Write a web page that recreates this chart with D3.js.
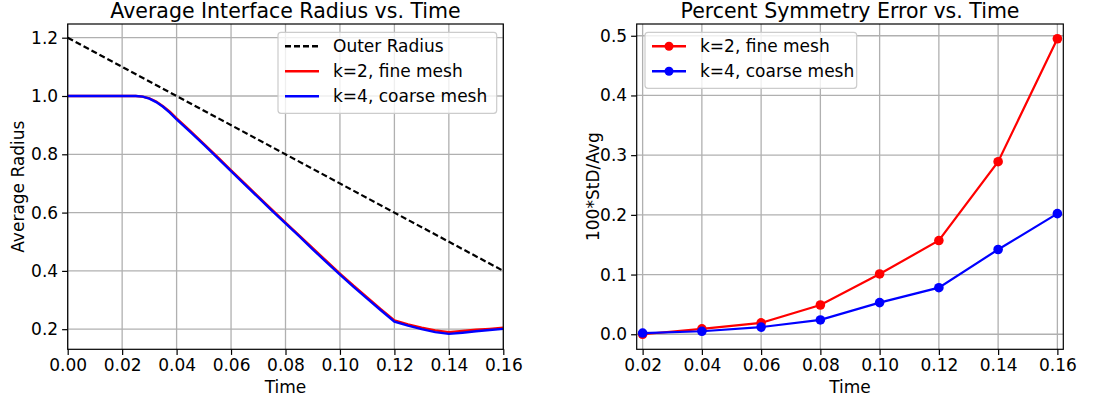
<!DOCTYPE html>
<html lang="en">
<head>
<meta charset="UTF-8">
<title>Interface Radius and Symmetry Error</title>
<script src="https://d3js.org/d3.v7.min.js"></script>
<style>
body { margin: 0; background: #fff; }
svg text { font-family: "DejaVu Sans", sans-serif; fill: #000; }
</style>
</head>
<body>
<svg width="1094" height="402"></svg>
<script>
// left panel: radius history (denser samples around the knee)
var timeFine = [0, 0.005, 0.01, 0.015, 0.02, 0.025, 0.0275, 0.03, 0.0325, 0.035, 0.0375, 0.04,
    0.045, 0.05, 0.055, 0.06, 0.065, 0.07, 0.075, 0.08, 0.085, 0.09, 0.095, 0.10, 0.105,
    0.11, 0.115, 0.12, 0.125, 0.13, 0.135, 0.14, 0.145, 0.15, 0.155, 0.16];
var radiusK2 = [1.0, 1.0, 1.0, 1.0, 1.0, 1.0, 0.998, 0.992, 0.981, 0.965, 0.946, 0.923,
    0.880, 0.836, 0.791, 0.745, 0.700, 0.655, 0.610, 0.566, 0.522, 0.478, 0.434, 0.391, 0.349,
    0.309, 0.269, 0.230, 0.216, 0.205, 0.196, 0.190, 0.194, 0.198, 0.201, 0.205];
var radiusK4 = [1.0, 1.0, 1.0, 1.0, 1.0, 1.0, 0.998, 0.991, 0.979, 0.963, 0.943, 0.920,
    0.877, 0.833, 0.788, 0.742, 0.697, 0.652, 0.607, 0.563, 0.519, 0.474, 0.430, 0.387, 0.345,
    0.305, 0.265, 0.226, 0.212, 0.200, 0.190, 0.184, 0.188, 0.193, 0.197, 0.201];
var outerTime = [0, 0.16];
var outerRadius = [1.2, 0.4];

// right panel: symmetry error
var timeCoarse = [0.02, 0.04, 0.06, 0.08, 0.10, 0.12, 0.14, 0.16];
var errK2 = [0.000, 0.009, 0.019, 0.049, 0.101, 0.157, 0.289, 0.495];
var errK4 = [0.002, 0.005, 0.012, 0.024, 0.053, 0.078, 0.142, 0.202];

var leftXTicks = [0, 0.02, 0.04, 0.06, 0.08, 0.10, 0.12, 0.14, 0.16];
var leftYTicks = [0.2, 0.4, 0.6, 0.8, 1.0, 1.2];
var rightXTicks = [0.02, 0.04, 0.06, 0.08, 0.10, 0.12, 0.14, 0.16];
var rightYTicks = [0.0, 0.1, 0.2, 0.3, 0.4, 0.5];

var svg = d3.select('svg');
var plotTop = 24, plotBottom = 349.3;

function panel(opt) {
    var g = svg.append('g');
    var x = d3.scaleLinear().domain(opt.xDomain).range([opt.left, opt.right]);
    var y = d3.scaleLinear().domain(opt.yDomain).range([plotBottom, plotTop]);

    // grid
    g.append('g').selectAll('line').data(opt.xTicks).enter().append('line')
        .attr('x1', d => x(d)).attr('x2', d => x(d))
        .attr('y1', plotTop).attr('y2', plotBottom)
        .attr('stroke', '#b0b0b0').attr('stroke-width', 1.3);
    g.append('g').selectAll('line').data(opt.yTicks).enter().append('line')
        .attr('x1', opt.left).attr('x2', opt.right)
        .attr('y1', d => y(d)).attr('y2', d => y(d))
        .attr('stroke', '#b0b0b0').attr('stroke-width', 1.3);

    var clipId = 'clip' + Math.round(opt.left);
    svg.append('clipPath').attr('id', clipId).append('rect')
        .attr('x', opt.left).attr('y', plotTop)
        .attr('width', opt.right - opt.left).attr('height', plotBottom - plotTop);
    var plot = g.append('g').attr('clip-path', 'url(#' + clipId + ')');
    opt.draw(plot, x, y);

    // axes
    var xa = g.append('g').attr('transform', 'translate(0,' + plotBottom + ')')
        .call(d3.axisBottom(x).tickValues(opt.xTicks).tickFormat(d3.format(opt.xFmt)).tickSize(5.6).tickPadding(4));
    var ya = g.append('g').attr('transform', 'translate(' + opt.left + ',0)')
        .call(d3.axisLeft(y).tickValues(opt.yTicks).tickFormat(d3.format(opt.yFmt)).tickSize(5.6).tickPadding(4));
    [xa, ya].forEach(function(a) {
        a.select('.domain').remove();
        a.selectAll('.tick line').attr('stroke', '#000').attr('stroke-width', 1.2);
        a.selectAll('.tick text').attr('font-size', 17).attr('fill', '#000')
            .style('font-family', '"DejaVu Sans", sans-serif');
    });
    xa.selectAll('.tick text').attr('dy', '0.71em');

    g.append('rect').attr('x', opt.left).attr('y', plotTop)
        .attr('width', opt.right - opt.left).attr('height', plotBottom - plotTop)
        .attr('fill', 'none').attr('stroke', '#000').attr('stroke-width', 1.2);

    var cx = (opt.left + opt.right) / 2;
    g.append('text').attr('x', cx).attr('y', 18).attr('text-anchor', 'middle')
        .attr('font-size', 20.5).text(opt.title);
    g.append('text').attr('x', cx).attr('y', 393).attr('text-anchor', 'middle')
        .attr('font-size', 17).text('Time');
    g.append('text').attr('transform', 'translate(' + opt.ylabelX + ',' + ((plotTop + plotBottom) / 2) + ') rotate(-90)')
        .attr('text-anchor', 'middle').attr('font-size', 17).text(opt.ylabel);

    // legend
    var lg = g.append('g');
    lg.append('rect').attr('x', opt.legend.x).attr('y', opt.legend.y)
        .attr('width', opt.legend.w).attr('height', opt.legend.h).attr('rx', 3)
        .attr('fill', '#fff').attr('fill-opacity', 0.8).attr('stroke', '#cccccc').attr('stroke-width', 1.2);
    opt.legend.items.forEach(function(it, i) {
        var cy = opt.legend.y + 14 + i * 25;
        var lx = opt.legend.x + 7;
        lg.append('line').attr('x1', lx).attr('x2', lx + 34).attr('y1', cy).attr('y2', cy)
            .attr('stroke', it.color).attr('stroke-width', 2.4)
            .attr('stroke-dasharray', it.dash || null);
        if (it.marker) {
            lg.append('circle').attr('cx', lx + 17).attr('cy', cy).attr('r', 4.5).attr('fill', it.color);
        }
        lg.append('text').attr('x', lx + 48).attr('y', cy).attr('dy', '0.36em')
            .attr('font-size', 17).text(it.label);
    });
}

panel({
    left: 67.7, right: 503.3,
    xDomain: [0, 0.16], yDomain: [0.131, 1.247],
    xTicks: leftXTicks, yTicks: leftYTicks, xFmt: '.2f', yFmt: '.1f',
    title: 'Average Interface Radius vs. Time',
    ylabel: 'Average Radius', ylabelX: 24,
    legend: { x: 278, y: 32.3, w: 218.7, h: 81, items: [
        { label: 'Outer Radius', color: '#000', dash: '6,3' },
        { label: 'k=2, fine mesh', color: '#ff0000' },
        { label: 'k=4, coarse mesh', color: '#0000ff' }
    ] },
    draw: function(p, x, y) {
        var line = d3.line().x(d => x(d[0])).y(d => y(d[1]));
        p.append('path').datum(d3.zip(outerTime, outerRadius)).attr('d', line)
            .attr('fill', 'none').attr('stroke', '#000').attr('stroke-width', 2.2).attr('stroke-dasharray', '6,3');
        p.append('path').datum(d3.zip(timeFine, radiusK2)).attr('d', line)
            .attr('fill', 'none').attr('stroke', '#ff0000').attr('stroke-width', 2.4);
        p.append('path').datum(d3.zip(timeFine, radiusK4)).attr('d', line)
            .attr('fill', 'none').attr('stroke', '#0000ff').attr('stroke-width', 2.4);
    }
});

panel({
    left: 636.7, right: 1063.3,
    xDomain: [0.018, 0.162], yDomain: [-0.0252, 0.5197],
    xTicks: rightXTicks, yTicks: rightYTicks, xFmt: '.2f', yFmt: '.1f',
    title: 'Percent Symmetry Error vs. Time',
    ylabel: '100*StD/Avg', ylabelX: 599,
    legend: { x: 645, y: 32.3, w: 211.7, h: 56, items: [
        { label: 'k=2, fine mesh', color: '#ff0000', marker: true },
        { label: 'k=4, coarse mesh', color: '#0000ff', marker: true }
    ] },
    draw: function(p, x, y) {
        var line = d3.line().x(d => x(d[0])).y(d => y(d[1]));
        [[errK2, '#ff0000'], [errK4, '#0000ff']].forEach(function(s) {
            var pts = d3.zip(timeCoarse, s[0]);
            p.append('path').datum(pts).attr('d', line)
                .attr('fill', 'none').attr('stroke', s[1]).attr('stroke-width', 2.2);
            p.selectAll(null).data(pts).enter().append('circle')
                .attr('cx', d => x(d[0])).attr('cy', d => y(d[1])).attr('r', 4.8).attr('fill', s[1]);
        });
    }
});
</script>
</body>
</html>
